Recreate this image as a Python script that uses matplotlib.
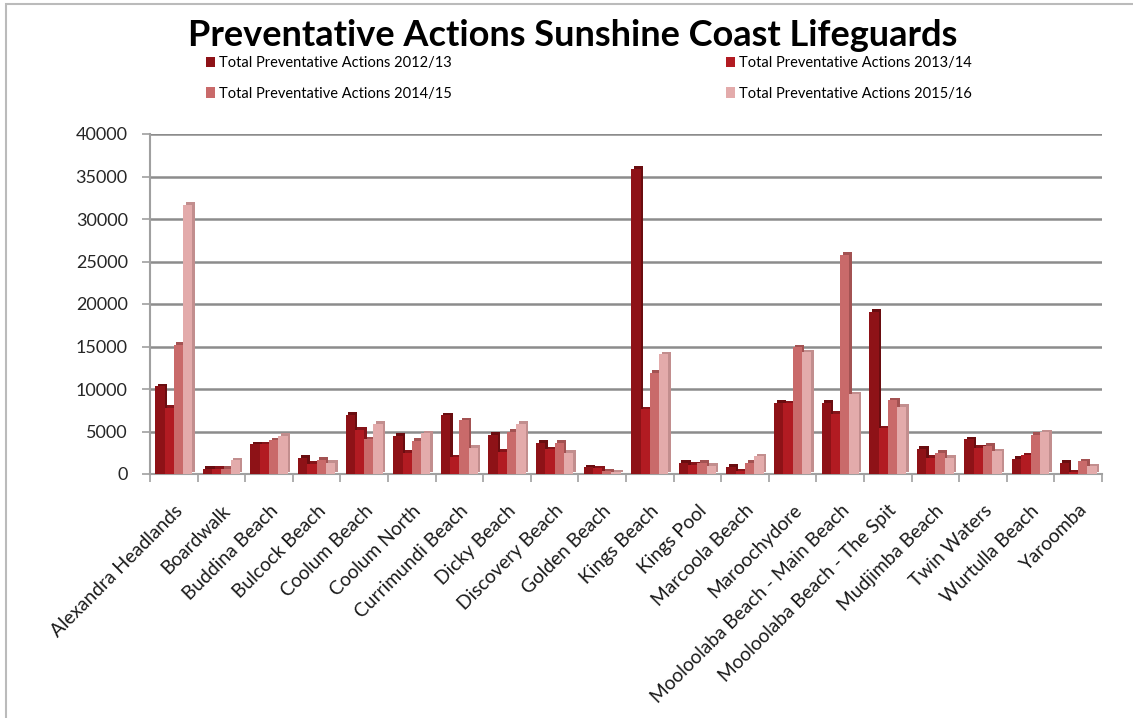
import matplotlib
matplotlib.use("Agg")
import matplotlib.pyplot as plt
import numpy as np
from matplotlib.patches import Patch, Rectangle
from matplotlib.transforms import ScaledTranslation

plt.rcParams['font.family'] = ['Lato', 'DejaVu Sans']

categories = ["Alexandra Headlands", "Boardwalk", "Buddina Beach", "Bulcock Beach",
              "Coolum Beach", "Coolum North", "Currimundi Beach", "Dicky Beach",
              "Discovery Beach", "Golden Beach", "Kings Beach", "Kings Pool",
              "Marcoola Beach", "Maroochydore", "Mooloolaba Beach - Main Beach",
              "Mooloolaba Beach - The Spit", "Mudjimba Beach", "Twin Waters",
              "Wurtulla Beach", "Yaroomba"]

s2012 = [10300, 600, 3500, 1900, 7000, 4500, 6900, 4600, 3700, 800, 35900, 1300,
         850, 8400, 8400, 19100, 3000, 4100, 1800, 1300]
s2013 = [7800, 600, 3500, 1200, 5200, 2500, 2000, 2600, 2900, 700, 7600, 1100,
         300, 8300, 7100, 5400, 1900, 3100, 2200, 200]
s2014 = [15200, 600, 4000, 1700, 4100, 3900, 6300, 5000, 3700, 350, 11900, 1300,
         1300, 14900, 25800, 8700, 2500, 3300, 4600, 1500]
s2015 = [31700, 1600, 4500, 1300, 5900, 4800, 3100, 5900, 2500, 200, 14100, 950,
         2100, 14300, 9400, 7900, 1900, 2700, 4900, 900]

series_labels = ["Total Preventative Actions 2012/13", "Total Preventative Actions 2013/14",
                 "Total Preventative Actions 2014/15", "Total Preventative Actions 2015/16"]
series = [s2012, s2013, s2014, s2015]
colors = ["#8E1217", "#B21B22", "#C96A6A", "#E3ABAB"]
side_colors = ["#6A0D10", "#861419", "#A35252", "#C28E8E"]

yticks = [0, 5000, 10000, 15000, 20000, 25000, 30000, 35000, 40000]

W, H = 1133, 718
fig = plt.figure(figsize=(W / 100, H / 100), dpi=100)
fig.patch.set_facecolor('white')

# outer chart border
fig.add_artist(Rectangle((6 / W, -0.01), 1.2, (718 - 4) / H + 0.01, transform=fig.transFigure,
                         fill=False, edgecolor='#BBBBBB', linewidth=1.5))

left, right, bottom, top = 150, 1102, 474, 134
ax = fig.add_axes([left / W, (H - bottom) / H, (right - left) / W, (bottom - top) / H])

n = len(categories)
x = np.arange(n)
bw = 0.195
offsets = (np.arange(4) - 1.5) * bw

# 3D-ish depth copies (drawn first, behind)
depth = ScaledTranslation(2.5 / 100, 2.5 / 100, fig.dpi_scale_trans)
for i, (vals, sc) in enumerate(zip(series, side_colors)):
    ax.bar(x + offsets[i], vals, width=bw, color=sc, zorder=2,
           transform=ax.transData + depth, clip_on=False)
for i, (vals, c, lab) in enumerate(zip(series, colors, series_labels)):
    ax.bar(x + offsets[i], vals, width=bw, color=c, zorder=3, label=lab)

ax.set_xlim(-0.5, n - 0.5)
ax.set_ylim(0, 40000)
ax.set_yticks(yticks)
ax.set_yticklabels([str(v) for v in yticks], fontsize=13, color='#262626')
ax.yaxis.grid(True, color='#8C8C8C', linewidth=1.8, zorder=0)
ax.set_axisbelow(True)

ax.set_xticks(np.arange(n + 1) - 0.5, minor=False)
ax.set_xticklabels([])
ax.set_xticks(x, minor=True)
ax.set_xticklabels(categories, minor=True, rotation=45, ha='right', va='top',
                   rotation_mode='anchor', fontsize=13.8, color='#1A1A1A')
ax.tick_params(axis='x', which='minor', length=0, pad=20)
ax.tick_params(axis='x', which='major', length=6, color='#A0A0A0', width=1.2)
ax.tick_params(axis='y', length=6, color='#A0A0A0', width=1.2, pad=10)

for s in ['top', 'right']:
    ax.spines[s].set_visible(False)
for s in ['left', 'bottom']:
    ax.spines[s].set_color('#A0A0A0')
    ax.spines[s].set_linewidth(1.5)

fig.text(573 / W, 1 - 35 / H, "Preventative Actions Sunshine Coast Lifeguards",
         ha='center', va='center', fontsize=26, fontweight='bold', color='black')

handles = [Patch(facecolor=c) for c in colors]
leg1 = fig.legend([handles[0], handles[2]], [series_labels[0], series_labels[2]],
                  loc='upper left', bbox_to_anchor=(200 / W, 1 - 50 / H), frameon=False,
                  fontsize=10.5, handlelength=0.6, handleheight=0.7, handletextpad=0.3,
                  labelspacing=1.15, borderaxespad=0)
leg2 = fig.legend([handles[1], handles[3]], [series_labels[1], series_labels[3]],
                  loc='upper left', bbox_to_anchor=(720 / W, 1 - 50 / H), frameon=False,
                  fontsize=10.5, handlelength=0.6, handleheight=0.7, handletextpad=0.3,
                  labelspacing=1.15, borderaxespad=0)

fig.savefig("out.png", dpi=100)
